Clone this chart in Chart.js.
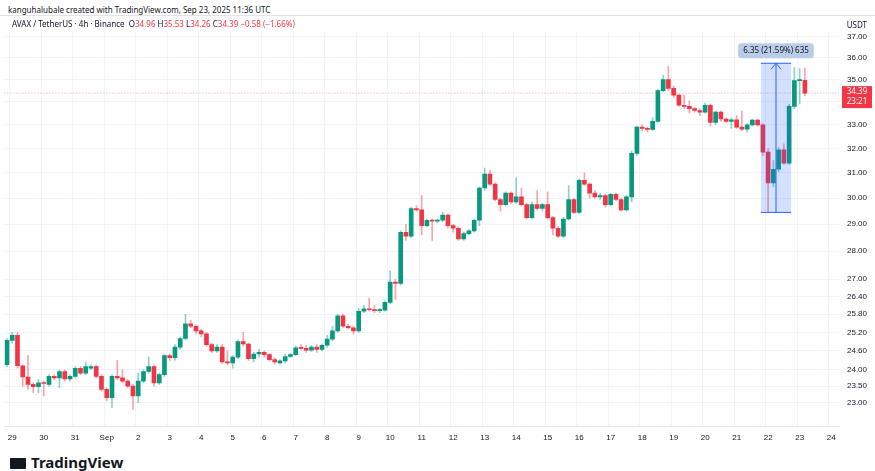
<!DOCTYPE html>
<html>
<head>
<meta charset="utf-8">
<script src="https://cdn.jsdelivr.net/npm/chart.js@4"></script>
<style>
  body { margin: 0; width: 875px; height: 471px; background: #fff; font-family: "Noto Sans", Arial, sans-serif; overflow: hidden; position: relative; }
  #credit { position: absolute; left: 8px; top: 4px; font-size: 8px; color: #131722; }
  #legend { position: absolute; left: 12px; top: 18px; font-size: 8px; color: #131722; z-index: 2; }
  #legend .v { color: #f23645; }
  #usdt { position: absolute; right: 8px; top: 19px; font-size: 8px; color: #131722; z-index: 2; }
  #frame { position: absolute; left: 0; top: 15px; width: 875px; border-top: 1px solid #e0e3eb; }
  #logo { position: absolute; left: 10px; top: 452px; font-size: 15px; font-weight: bold; color: #131722; }
  #logo span { display: inline-block; width: 16px; height: 11px; background: #131722; margin-right: 5px; border-radius: 1px; vertical-align: -1px; }
  #wrap { position: absolute; left: 0; top: 18px; width: 875px; height: 432px; }
</style>
</head>
<body>
<div id="frame"></div>
<div id="wrap"><canvas id="c"></canvas></div>
<div id="credit">kanguhalubale created with TradingView.com, Sep 23, 2025 11:36 UTC</div>
<div id="legend">AVAX / TetherUS · 4h · Binance &nbsp;O<span class="v">34.96</span> H<span class="v">35.53</span> L<span class="v">34.26</span> C<span class="v">34.39</span> <span class="v">−0.58 (−1.66%)</span></div>
<div id="usdt">USDT</div>
<div id="logo"><span></span>TradingView</div>
<script>
// 4h candles, first one Aug 28 20:00
const opens = [24.16,24.94,25.10,24.13,23.78,23.55,23.48,23.60,23.55,23.80,23.75,23.95,23.72,23.80,24.05,23.90,24.05,24.10,23.80,23.40,
  23.15,23.80,23.75,23.65,23.50,23.20,23.65,23.95,24.10,23.60,23.85,24.45,24.38,24.72,25.00,25.48,25.40,25.25,25.15,24.80,
  24.60,24.72,24.25,24.22,24.40,24.90,24.82,24.35,24.50,24.55,24.48,24.32,24.22,24.28,24.42,24.48,24.70,24.68,24.62,24.72,
  24.65,24.78,24.98,25.25,25.75,25.40,25.35,25.25,25.90,25.98,25.95,25.92,25.94,26.20,26.90,26.85,28.70,28.55,29.60,29.55,
  28.95,29.15,29.12,29.15,29.35,28.95,28.85,28.45,28.65,28.75,29.15,30.40,30.95,30.55,29.95,29.75,30.20,29.85,30.05,29.75,
  29.25,29.75,29.60,29.75,29.25,28.85,28.55,29.20,29.95,29.45,30.70,30.55,30.20,30.05,30.10,29.75,30.15,29.95,29.55,30.05,
  31.80,32.90,32.85,32.80,33.15,34.50,35.00,34.60,34.30,33.85,33.80,33.70,33.62,33.55,33.85,33.10,33.55,33.25,33.15,33.22,
  32.90,32.82,33.00,33.20,33.00,31.85,30.60,31.15,31.95,31.40,33.80,34.95,34.96];
const highs = [25.00,25.20,25.20,24.15,24.45,23.60,23.70,23.65,23.85,23.85,24.00,24.00,23.85,24.10,24.10,24.25,24.15,24.15,23.85,23.45,
  23.85,24.30,24.00,23.70,23.55,23.90,24.00,24.40,24.15,23.90,24.50,24.50,24.80,25.05,25.80,25.60,25.45,25.30,25.20,24.85,
  24.80,24.80,24.60,24.45,24.95,25.20,24.85,24.55,24.65,24.60,24.52,24.38,24.32,24.50,24.52,24.75,24.80,24.78,24.78,24.80,
  24.82,25.10,25.40,25.80,25.80,25.48,25.40,26.00,26.10,26.35,26.10,26.00,26.25,27.30,27.00,28.75,29.00,29.65,29.70,30.10,
  29.20,29.20,29.20,29.45,29.40,29.00,28.90,28.70,28.80,29.20,30.45,31.20,31.10,30.60,30.00,30.25,30.25,30.80,30.40,29.80,
  29.85,30.30,29.80,30.25,29.30,28.90,29.25,30.50,30.00,30.75,31.00,30.60,30.30,30.20,30.15,30.20,30.20,30.00,30.10,31.90,
  32.95,33.00,32.90,33.30,34.55,35.20,35.60,34.70,34.35,34.30,34.05,33.75,33.70,33.95,33.90,33.60,33.60,33.30,33.30,33.40,
  33.60,33.05,33.25,33.25,33.05,32.00,31.50,32.05,32.20,33.90,35.55,35.50,35.53];
const lows = [24.10,24.85,24.05,23.50,23.40,23.30,23.30,23.20,23.50,23.70,23.45,23.65,23.65,23.75,23.85,23.85,24.00,23.75,23.35,23.05,
  22.85,23.70,23.60,23.45,22.80,23.00,23.60,23.90,23.50,23.55,23.80,24.30,24.30,24.65,24.95,25.35,25.15,25.05,24.75,24.55,
  24.55,24.20,24.15,24.05,24.35,24.75,24.30,24.25,24.40,24.40,24.28,24.18,24.18,24.22,24.38,24.45,24.65,24.55,24.58,24.55,
  24.60,24.72,24.92,25.20,25.35,25.30,25.15,25.20,25.85,25.90,25.85,25.85,25.90,26.15,26.30,26.80,28.40,28.50,29.50,28.60,
  28.90,28.40,29.05,29.10,28.85,28.70,28.40,28.40,28.60,28.70,28.95,30.30,30.50,29.90,29.50,29.70,29.80,29.80,29.70,29.20,
  29.20,29.55,29.50,29.20,28.60,28.50,28.50,29.15,29.40,29.40,30.50,30.00,30.00,29.95,29.65,29.70,29.90,29.50,29.50,29.85,
  31.70,32.75,32.70,32.75,33.10,34.45,34.50,34.20,33.80,33.70,33.50,33.55,33.40,33.50,32.95,33.00,33.15,33.10,32.85,32.85,
  32.75,32.70,32.95,32.95,31.70,29.45,30.45,31.05,31.35,31.35,33.70,33.90,34.26];
const closes = [24.94,25.10,24.13,23.78,23.55,23.48,23.60,23.58,23.80,23.75,23.95,23.72,23.80,24.05,23.90,24.10,24.10,23.80,23.40,23.15,
  23.80,23.75,23.65,23.50,23.20,23.65,23.95,24.10,23.60,23.85,24.45,24.38,24.72,25.00,25.48,25.40,25.25,25.15,24.80,24.60,
  24.72,24.25,24.22,24.40,24.90,24.82,24.35,24.50,24.55,24.48,24.32,24.25,24.28,24.42,24.48,24.70,24.68,24.62,24.72,24.65,
  24.78,24.98,25.25,25.75,25.40,25.35,25.25,25.90,25.98,25.95,25.92,25.94,26.20,26.90,26.85,28.70,28.55,29.60,29.55,28.95,
  29.15,29.12,29.15,29.35,28.95,28.85,28.45,28.65,28.75,29.15,30.40,30.95,30.55,29.95,29.75,30.20,29.85,30.05,29.75,29.25,
  29.75,29.60,29.75,29.25,28.85,28.55,29.20,29.95,29.45,30.70,30.55,30.20,30.05,30.10,29.75,30.15,29.95,29.55,30.05,31.80,
  32.90,32.85,32.80,33.15,34.50,35.00,34.60,34.30,33.85,33.80,33.70,33.62,33.55,33.85,33.10,33.55,33.25,33.15,33.22,32.90,
  32.82,33.00,33.20,33.00,31.85,30.60,31.15,31.95,31.40,33.80,34.95,34.96,34.39];
const priceTicks = [23.00,23.50,24.00,24.60,25.20,25.80,26.40,27.00,28.00,29.00,30.00,31.00,32.00,33.00,34.00,35.00,36.00,37.00];
const measureFrom = 144, measureTo = 149, measureLow = 29.45, measureHigh = 35.75;
const measureText = '6.35 (21.59%) 635';
const lastPrice = 34.39, countdown = '23:21';

const UP = '#089981', DOWN = '#f23645';
const slots = 159; // extra empty slots on the right like TradingView
const start = new Date(Date.UTC(2025, 7, 28, 20));
const labels = [];
for (let i = 0; i < slots; i++) labels.push(new Date(start.getTime() + i * 4 * 3600e3));
const pad = arr => arr.concat(Array(slots - arr.length).fill(null));
const cols = closes.map((c, i) => c >= opens[i] ? UP : DOWN);
const wickCols = cols.map(c => c === UP ? 'rgba(8,153,129,0.45)' : 'rgba(242,54,69,0.45)');

const overlay = {
  id: 'overlay',
  afterDatasetsDraw(chart) {
    const { ctx, chartArea: a, scales: { x, y } } = chart;
    ctx.save();
    // last price line
    const ly = y.getPixelForValue(lastPrice);
    ctx.strokeStyle = 'rgba(242,54,69,0.5)';
    ctx.setLineDash([1, 2]);
    ctx.beginPath(); ctx.moveTo(a.left, ly); ctx.lineTo(a.right, ly); ctx.stroke();
    ctx.setLineDash([]);
    // measure box
    const x1 = x.getPixelForValue(measureFrom) - 2, x2 = x.getPixelForValue(measureTo) + 2;
    const yt = y.getPixelForValue(measureHigh), yb = y.getPixelForValue(measureLow);
    ctx.fillStyle = 'rgba(41,98,255,0.2)';
    ctx.fillRect(x1, yt, x2 - x1, yb - yt);
    ctx.strokeStyle = '#2962ff'; ctx.lineWidth = 1;
    ctx.beginPath();
    ctx.moveTo(x1, yt); ctx.lineTo(x2, yt); ctx.moveTo(x1, yb); ctx.lineTo(x2, yb);
    const xm = (x1 + x2) / 2;
    ctx.moveTo(xm, yb); ctx.lineTo(xm, yt);
    ctx.moveTo(xm - 5, yt + 6); ctx.lineTo(xm, yt); ctx.lineTo(xm + 5, yt + 6);
    ctx.stroke();
    ctx.font = '8px "Noto Sans"';
    const tw = ctx.measureText(measureText).width + 10;
    ctx.fillStyle = 'rgba(180,198,230,0.9)';
    ctx.beginPath(); ctx.roundRect(xm - tw / 2, yt - 20, tw, 15, 3); ctx.fill();
    ctx.fillStyle = '#131722'; ctx.textAlign = 'center'; ctx.textBaseline = 'middle';
    ctx.fillText(measureText, xm, yt - 12.5);
    // price label on axis
    ctx.fillStyle = DOWN;
    ctx.fillRect(a.right + 3, ly - 7, 30, 22);
    ctx.fillStyle = '#fff';
    ctx.fillText(lastPrice.toFixed(2), a.right + 18, ly - 1);
    ctx.fillText(countdown, a.right + 18, ly + 9);
    ctx.restore();
  }
};

new Chart(document.getElementById('c'), {
  type: 'bar',
  data: {
    labels,
    datasets: [
      { data: pad(lows.map((l, i) => [l, highs[i]])), backgroundColor: wickCols, barThickness: 1, grouped: false },
      { data: pad(opens.map((o, i) => [o, closes[i]])), backgroundColor: cols, barThickness: 4, minBarLength: 1, grouped: false }
    ]
  },
  options: {
    responsive: true, maintainAspectRatio: false, animation: false,
    layout: { padding: { left: 0, right: 0, top: 2 } },
    plugins: { legend: { display: false }, tooltip: { enabled: false } },
    scales: {
      x: {
        offset: true,
        grid: { color: c => c.tick && c.tick.label ? '#f0f3fa' : 'transparent', drawTicks: false },
        border: { color: '#e0e3eb' },
        ticks: {
          autoSkip: false, maxRotation: 0, padding: 7, color: '#131722', font: { size: 8 },
          callback: function (v, i) {
            const d = labels[i];
            if (d.getUTCHours() !== 0) return '';
            return d.getUTCDate() === 1 ? 'Sep' : String(d.getUTCDate());
          }
        }
      },
      y: {
        type: 'logarithmic', position: 'right', min: 22.30, max: 37.29,
        grid: { color: '#f0f3fa', drawTicks: false },
        border: { display: false },
        afterBuildTicks: s => { s.ticks = priceTicks.map(v => ({ value: v })); },
        afterFit: s => { s.width = 36; },
        ticks: { padding: 8, color: '#131722', font: { size: 8 }, callback: v => Number(v).toFixed(2) }
      }
    }
  },
  plugins: [overlay]
});
</script>
</body>
</html>
